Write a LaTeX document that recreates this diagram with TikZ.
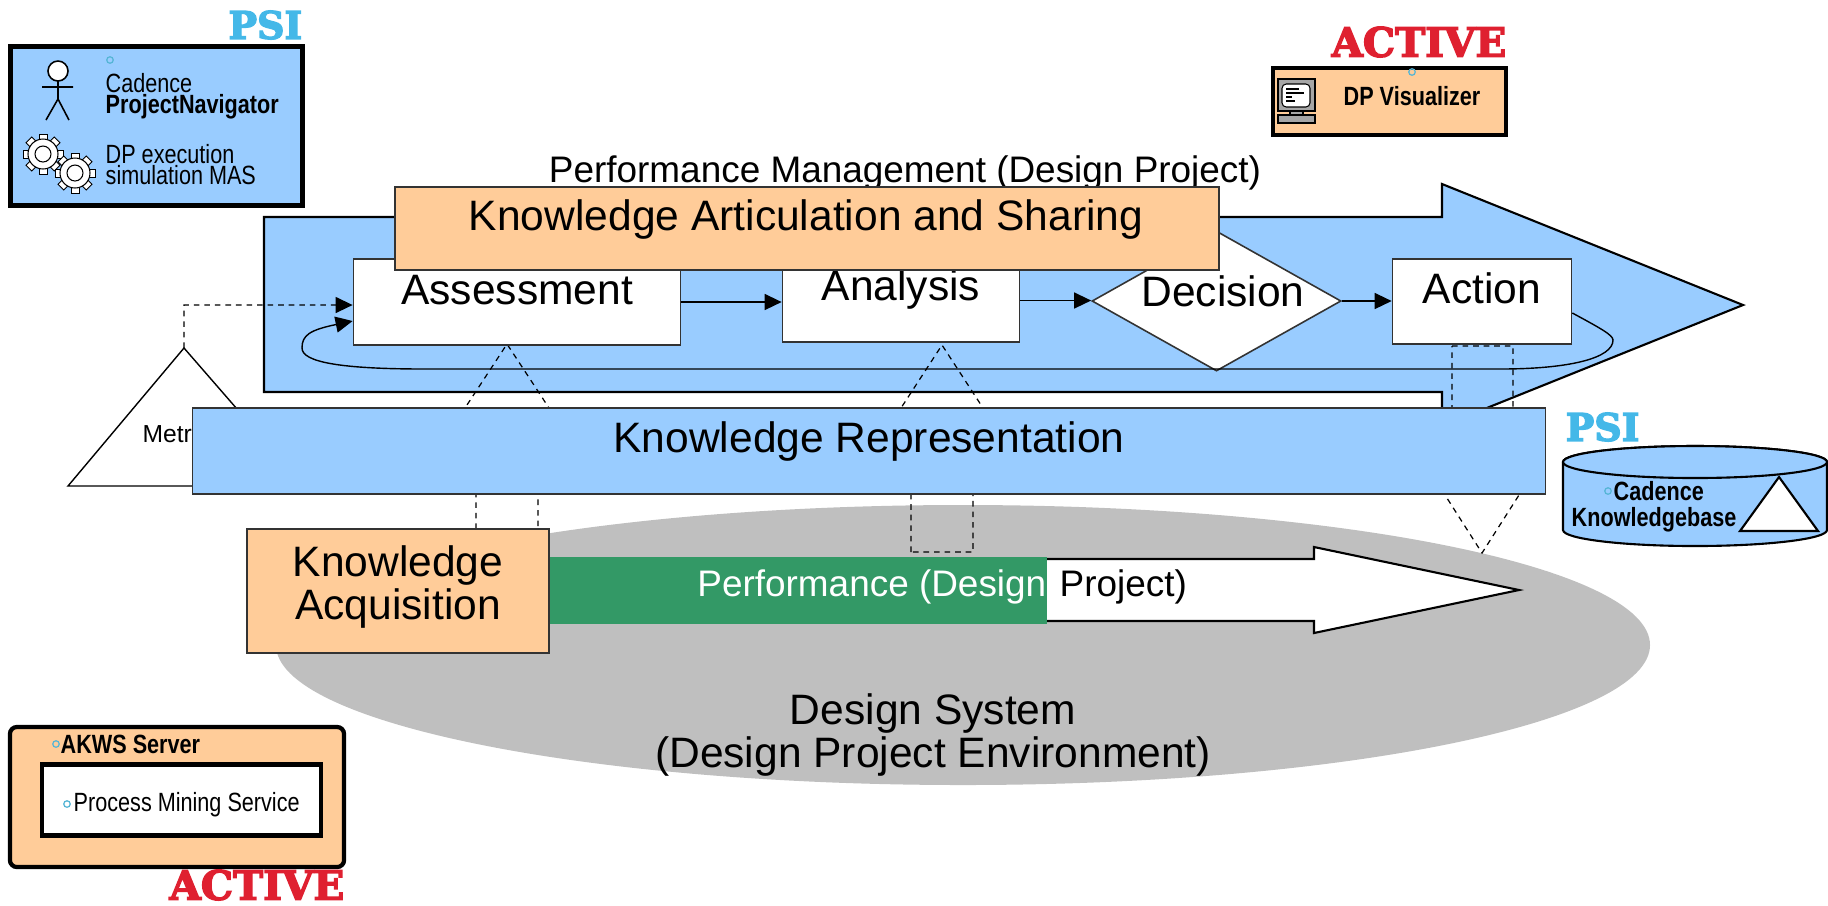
\documentclass[tikz,border=0pt]{standalone}
\usepackage{fontspec}
\setmainfont{Liberation Sans}
\newfontfamily\narrowfont[FakeStretch=0.82]{Liberation Sans}
\newfontfamily\logofont[FakeBold=3.5]{DejaVu Serif Bold}
\usetikzlibrary{arrows.meta,shapes.geometric}
\definecolor{paleblue}{HTML}{99CCFF}
\definecolor{paleorange}{HTML}{FFCC99}
\definecolor{midgreen}{HTML}{339966}
\definecolor{psiblue}{HTML}{44B8E8}
\definecolor{activered}{HTML}{DF2030}
\definecolor{dotblue}{HTML}{55B5D5}
\tikzset{
  solidtip/.style={-{Triangle[length=.17cm,width=.16cm]}},
  flowline/.style={line width=.4pt,solidtip},
  dashlink/.style={line width=.35pt,dash pattern=on 1.6pt off 1.4pt},
  procbox/.style={draw=black!80,line width=.45pt,fill=white,inner sep=0pt},
  bigtext/.style={inner sep=0pt,align=center,font=\fontsize{12.1}{12.1}\selectfont},
  midtext/.style={inner sep=0pt,font=\fontsize{10.5}{12}\selectfont},
  smalltext/.style={inner sep=0pt,align=left,font=\narrowfont\fontsize{7.5}{6}\selectfont},
  boldtext/.style={inner sep=0pt,align=center,font=\narrowfont\bfseries\fontsize{7.5}{6}\selectfont},
  toolbox/.style={draw=black,line width=1.2pt,inner sep=0pt},
  dot/.style={circle,draw=dotblue,line width=.35pt,inner sep=0pt,minimum size=.065cm},
  psilogo/.style={inner sep=0pt,text=psiblue,font=\logofont\fontsize{10.8}{12}\selectfont},
  activelogo/.style={inner sep=0pt,text=activered,font=\logofont\fontsize{11.5}{12}\selectfont}
}
\begin{document}
\begin{tikzpicture}[x=.01cm,y=-.01cm]
 \useasboundingbox (0,0) rectangle (1828,905);
 % design system with the performance arrow
 \fill[black!25] (963,645) ellipse [x radius=687,y radius=140];
 \draw[fill=white,line width=.6pt] (900,559) -- (1314,559) -- (1314,547) -- (1519,590) -- (1314,633) -- (1314,621) -- (900,621) -- cycle;
 \fill[midgreen] (549,557) rectangle (1047,624);
 \node[midtext,text=white,anchor=east] (perfleft) at (1047,587) {Performance (Design};
 \node[midtext,anchor=west] (perfright) at (1059,587) {Project)};
 \node[bigtext] (system) at (933,735) {Design System\\(Design Project Environment)};
 % performance management arrow
 \draw[fill=paleblue,line width=.6pt] (264,217) -- (1442,217) -- (1442,184) -- (1743,305) -- (1442,426) -- (1442,392) -- (264,392) -- cycle;
 \node[midtext] (title) at (905,173) {Performance Management (Design Project)};
 % dashed links between the levels
 \coordinate (asapex) at (507,344);
 \coordinate (anapex) at (942,345);
 \coordinate (acleft) at (1452,346);
 \coordinate (acright) at (1513,346);
 \coordinate (sysapex) at (1482,553);
 \draw[dashlink] (476,529) -- (476,440) -- (465,408) -- (asapex) -- (549,408) -- (538,440) -- (538,529);
 \draw[dashlink] (911,552) -- (911,440) -- (901,408) -- (anapex) -- (983,408) -- (973,440) -- (973,552) -- cycle;
 \draw[dashlink] (acleft) -- (acright) -- (1513,420) -- (1519,495) -- (sysapex) -- (1445,495) -- (1452,420) -- cycle;
 % process steps
 \node[procbox,minimum width=3.27cm,minimum height=.86cm] (assessment) at (517,302) {};
 \node[procbox,minimum width=2.37cm,minimum height=.83cm] (analysis) at (901,300.5) {};
 \node[procbox,diamond,aspect=1.78,minimum width=2.49cm,minimum height=1.40cm] (decision) at (1216.5,301) {};
 \node[procbox,minimum width=1.79cm,minimum height=.85cm] (action) at (1482,301.5) {};
 \node[bigtext] (assessmenttext) at (517,290) {Assessment};
 \node[bigtext] (analysistext) at (901,289) {Analysis};
 \node[bigtext] (decisiontext) at (1223,291) {Decision};
 \node[bigtext] (actiontext) at (1482,288) {Action};
 \draw[flowline] (assessment.east) -- (assessment.east -| analysis.west);
 \draw[flowline] (analysis.east) -- (analysis.east -| decision.west);
 \draw[flowline] (decision.east) -- (decision.east -| action.west);
 \draw[flowline] ([yshift=-.115cm]action.east) .. controls (1600,328) and (1613,335) .. (1613,340) .. controls (1613,358) and (1570,369) .. (1500,369) -- (425,369) .. controls (340,369) and (302,362) .. (302,348) .. controls (302,335) and (310,330) .. ([yshift=-.19cm]assessment.west);
 % metrics triangle
 \coordinate (metricstop) at (184,348);
 \draw[draw=black,fill=white,line width=.4pt] (metricstop) -- (304,486) -- (68,486) -- cycle;
 \node[inner sep=0pt,anchor=west,font=\fontsize{7}{8}\selectfont] (metrics) at (142,434) {Metrics};
 \draw[flowline,dash pattern=on 1.6pt off 1.4pt] (metricstop) -- (184,305) -- ([yshift=-.03cm]assessment.west);
 % knowledge levels
 \node[procbox,fill=paleorange,minimum width=8.24cm,minimum height=.83cm] (articulation) at (807,228.5) {};
 \node[bigtext] (articulationtext) at (806,219) {Knowledge Articulation and Sharing};
 \node[procbox,fill=paleblue,minimum width=13.52cm,minimum height=.86cm] (representation) at (869,451) {};
 \node[bigtext] (representationtext) at (869,441) {Knowledge Representation};
 \node[procbox,fill=paleorange,minimum width=3.02cm,minimum height=1.24cm] (acquisition) at (398,591) {};
 \node[bigtext] (acquisitiontext) at (398,587) {Knowledge\\Acquisition};
 % psi tools top left
 \node[toolbox,fill=paleblue,minimum width=2.92cm,minimum height=1.59cm] (psitools) at (156.5,126) {};
 \node[psilogo,anchor=east] (psitop) at (303,25) {PSI};
 \draw[line width=.45pt,fill=white] (58,71) circle [radius=10];
 \draw[line width=.45pt] (58,81) -- (58,99) (42,87) -- (73,87) (46,120) -- (58,99) -- (69,120);
 \foreach \gx/\gy in {43/154,75/173} {
  \foreach \ga in {0,45,...,315}
   \draw[line width=.25pt,fill=white,shift={(\gx,\gy)},rotate=\ga] (14,-4) rectangle (20,4);
  \draw[line width=.3pt,fill=white] (\gx,\gy) circle [radius=15];
  \draw[line width=.3pt,fill=white] (\gx,\gy) circle [radius=8];
 }
 \node[dot] (dotnavigator) at (110,60) {};
 \node[smalltext,anchor=west] (cadence) at (105,83) {Cadence};
 \node[boldtext,anchor=west] (navigator) at (105,107) {ProjectNavigator};
 \node[smalltext,anchor=west] (masname) at (105,164.5) {DP execution\\simulation MAS};
 % active visualizer top right
 \node[toolbox,fill=paleorange,minimum width=2.33cm,minimum height=.67cm] (visualizer) at (1389.5,101.5) {};
 \node[activelogo,anchor=east] (activetop) at (1507,42) {ACTIVE};
 \draw[line width=.3pt,fill=black!35] (1278,79) rectangle (1315,111);
 \draw[line width=.3pt,fill=white,rounded corners=1.2pt] (1282,84) rectangle (1310,107);
 \draw[line width=.4pt] (1286,89) -- (1299,89) (1286,93) -- (1304,93) (1286,97) -- (1292,97) (1286,101) -- (1295,101);
 \draw[line width=.3pt,fill=black!35] (1290,111) rectangle (1303,115);
 \draw[line width=.3pt,fill=black!35] (1278,115) rectangle (1315,123);
 \node[dot] (dotvisualizer) at (1412,72) {};
 \node[boldtext] (visualizertext) at (1412,96) {DP Visualizer};
 % psi knowledgebase right
 \node[psilogo,anchor=west] (psiright) at (1565,427) {PSI};
 \draw[line width=.6pt,fill=paleblue] (1563,462) -- (1563,530) arc [start angle=180,end angle=360,x radius=132,y radius=-16] -- (1827,462) arc [start angle=0,end angle=180,x radius=132,y radius=-16] -- cycle;
 \draw[line width=.6pt,fill=paleblue] (1695,462) ellipse [x radius=132,y radius=16];
 \draw[line width=.6pt,fill=white] (1779,477) -- (1818,531) -- (1740,531) -- cycle;
 \node[dot] (dotbase) at (1608,491) {};
 \node[boldtext,anchor=west] (basecadence) at (1613,491) {Cadence};
 \node[boldtext,anchor=west] (basename) at (1571,520) {Knowledgebase};
 % active server bottom left
 \node[toolbox,fill=paleorange,rounded corners=2pt,minimum width=3.34cm,minimum height=1.40cm] (server) at (177,797) {};
 \node[toolbox,fill=white,minimum width=2.79cm,minimum height=.71cm] (mining) at (181.5,800) {};
 \node[dot] (dotserver) at (56,744) {};
 \node[boldtext,anchor=west] (servertext) at (60,744) {AKWS Server};
 \node[dot] (dotmining) at (67,804) {};
 \node[smalltext,anchor=west] (miningtext) at (73,805) {Process Mining Service};
 \node[activelogo,anchor=east] (activebottom) at (345,885) {ACTIVE};
\end{tikzpicture}
\end{document}
